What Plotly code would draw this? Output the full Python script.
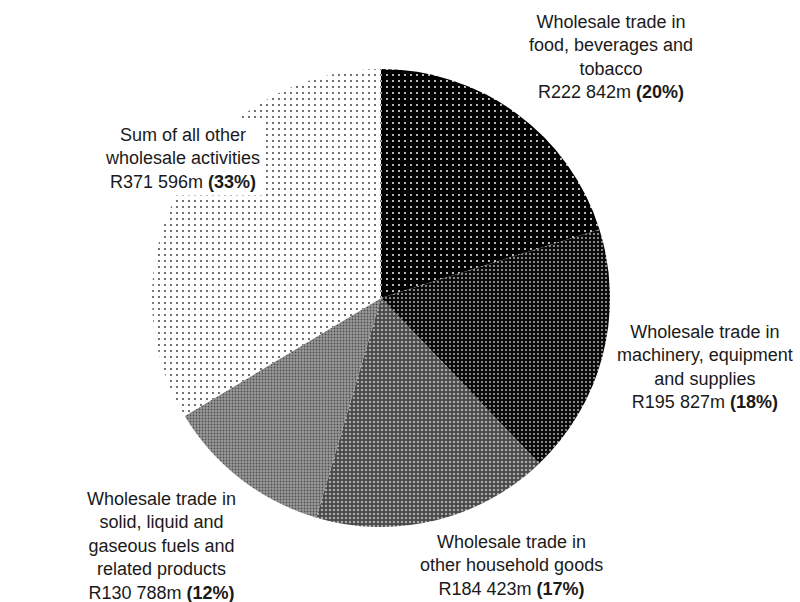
import plotly.graph_objects as go

# Wholesale trade income by activity (R million)
categories = [
    "Wholesale trade in food, beverages and tobacco",
    "Wholesale trade in machinery, equipment and supplies",
    "Wholesale trade in other household goods",
    "Wholesale trade in solid, liquid and gaseous fuels and related products",
    "Sum of all other wholesale activities",
]
values = [222842, 195827, 184423, 130788, 371596]
amount_labels = ["R222 842m", "R195 827m", "R184 423m", "R130 788m", "R371 596m"]
pct_labels = ["20%", "18%", "17%", "12%", "33%"]
label_lines = [
    ["Wholesale trade in", "food, beverages and", "tobacco"],
    ["Wholesale trade in", "machinery, equipment", "and supplies"],
    ["Wholesale trade in", "other household goods"],
    ["Wholesale trade in", "solid, liquid and", "gaseous fuels and", "related products"],
    ["Sum of all other", "wholesale activities"],
]

# Fill styles per slice: background, dot colour, dot spacing, dot size
bg_colors = ["#000000", "#0a0a0a", "#484848", "#9a9a9a", "#ffffff"]
fg_colors = ["#ffffff", "#b0b0b0", "#a8a8a8", "#4e4e4e", "#3a3a3a"]
shapes = [".", ".", ".", ".", "."]
sizes = [6, 4, 4, 3, 6]
solidities = [0.08, 0.2, 0.32, 0.3, 0.08]

W, H = 800, 602
cx, cy, r = 381, 298, 229

fig = go.Figure(
    go.Pie(
        labels=categories,
        values=values,
        sort=False,
        direction="clockwise",
        rotation=0,
        textinfo="none",
        hoverinfo="label+value",
        showlegend=False,
        domain=dict(
            x=[(cx - r) / W, (cx + r) / W],
            y=[1 - (cy + r) / H, 1 - (cy - r) / H],
        ),
        marker=dict(
            colors=bg_colors,
            line=dict(width=0),
            pattern=dict(
                shape=shapes,
                fgcolor=fg_colors,
                bgcolor=bg_colors,
                size=sizes,
                solidity=solidities,
                fillmode="replace",
            ),
        ),
    )
)

# Label block centres in pixels; the last label sits over the pie on a white box
label_pos = [(611, 57), (705, 367), (511, 565), (161, 546), (182, 158)]
label_bg = [None, None, None, None, "white"]

for lines, amt, pct, (px, py), bg in zip(label_lines, amount_labels, pct_labels, label_pos, label_bg):
    text = "<br>".join(lines + [f"{amt} <b>({pct})</b>"])
    fig.add_annotation(
        x=px / W,
        y=1 - py / H,
        xref="paper",
        yref="paper",
        text=text,
        showarrow=False,
        align="center",
        xanchor="center",
        yanchor="middle",
        bgcolor=bg,
        borderpad=3,
        font=dict(family="Liberation Sans, Arial, sans-serif", size=18, color="#1a1a1a"),
    )

fig.update_layout(
    width=W,
    height=H,
    margin=dict(l=0, r=0, t=0, b=0),
    paper_bgcolor="white",
    plot_bgcolor="white",
)

fig.write_html("out.html")
